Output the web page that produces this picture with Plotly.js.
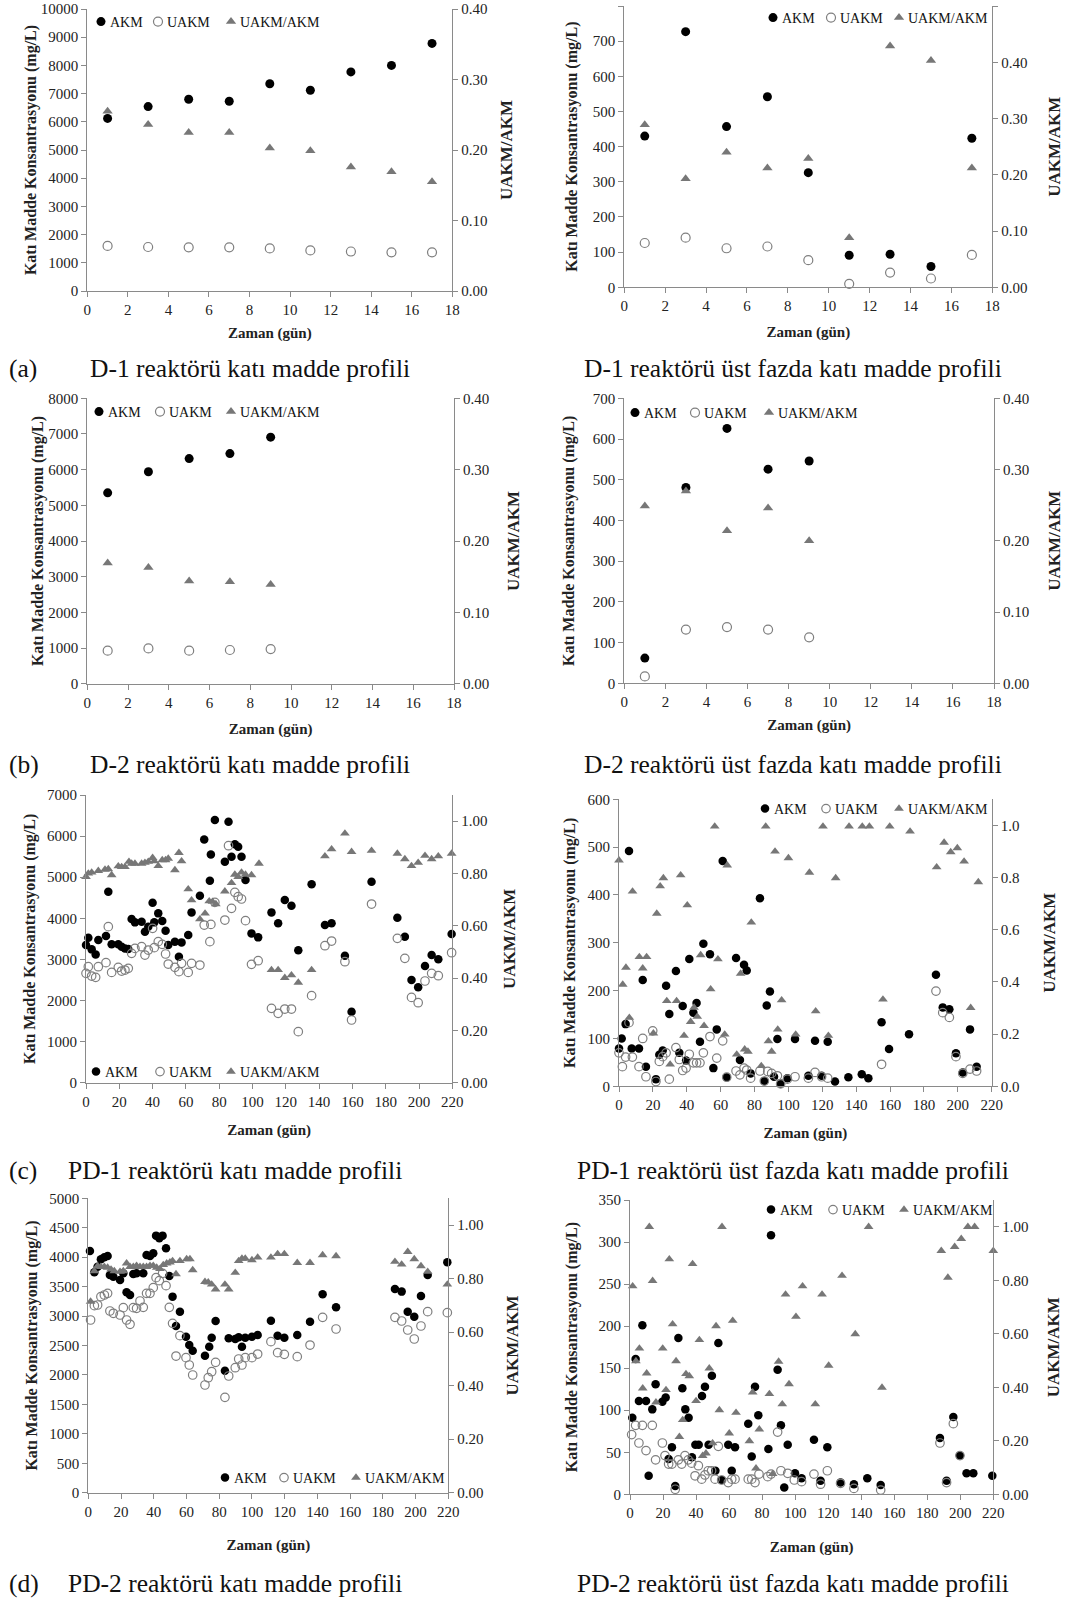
<!DOCTYPE html>
<html><head><meta charset="utf-8">
<script src="https://cdn.plot.ly/plotly-3.0.1.min.js"></script>
<style>html,body{margin:0;padding:0;background:#fff}</style>
</head><body><div id="chart" style="width:1073px;height:1601px"></div>
<script>
// ---------- DATA ----------
// D-1 (a)
const d1Days = [1,3,5,7,9,11,13,15,17];
const d1Akm = [6120,6540,6800,6730,7350,7120,7770,8000,8780];
const d1Uakm = [1600,1560,1550,1550,1510,1440,1400,1370,1370];
const d1Ratio = [0.255,0.236,0.225,0.225,0.203,0.199,0.176,0.169,0.155];
// D-1 üst faz
const d1tAkm = [430,727,457,542,326,91,94,59,424];
const d1tUakm = [126,141,111,116,77,10,42,25,92];
const d1tRatio = [0.289,0.193,0.240,0.212,0.229,0.088,0.429,0.403,0.212];
// D-2 (b)
const d2Days = [1,3,5,7,9];
const d2Akm = [5350,5940,6310,6450,6910];
const d2Uakm = [925,990,925,945,970];
const d2Ratio = [0.169,0.163,0.144,0.143,0.139];
// D-2 üst faz
const d2tAkm = [62,481,626,526,546];
const d2tUakm = [17,132,138,132,113];
const d2tRatio = [0.249,0.270,0.214,0.246,0.200];
// PD-1 (c)
const pd1Days = [0,1.4,3.4,5.8,7.4,12,13.4,15.4,19.4,21.4,23.4,25.4,27.4,29.4,33.4,35.4,37.4,40,41,43.4,45.8,47.8,49.4,53.4,55.8,57.4,61.4,63.4,68.4,71,74.4,75,77.4,83.4,85.6,87.4,89.4,91.4,93.4,95.8,99.4,103.4,111.4,115.4,119.4,123.4,127.5,135.5,143.5,147.5,155.5,159.5,171.5,187,191.5,195.5,199.5,203.6,207.6,211.6,219.6];
const pd1Akm = [3350,3528,3244,3122,3471,3569,4647,3366,3366,3309,3268,3252,3982,3901,3917,3674,3796,4380,3901,4120,3933,3698,3350,3431,3066,3414,3593,4144,4550,5920,4915,5555,6391,5377,6350,5499,5799,5742,5499,4931,3633,3536,4144,3877,4444,4306,3220,4826,3836,3877,3090,1727,4890,4015,3552,2498,2320,2839,3106,3001,3617];
const pd1Uakm = [2660,2822,2595,2563,2822,2920,3796,2684,2806,2717,2741,2782,3147,3268,3309,3106,3228,3755,3285,3431,3366,3131,2887,2806,2701,2904,2684,2904,2863,3836,3431,3852,4388,3958,5766,4242,4631,4525,4469,3942,2879,2968,1809,1687,1792,1792,1241,2117,3333,3447,2944,1525,4347,3512,3025,2076,1946,2474,2660,2603,3163];
const pd1RatioDays = [0,1.4,3.4,7.4,11.4,13.4,15.4,19.4,21.4,23.4,25.8,27.4,29.4,33.4,35.4,37.4,40,41,43.4,45.8,47.8,49.4,53.4,55.8,57.4,61.4,63.4,68.4,71.5,74,76,78,83.4,87.4,89.4,91.4,93.4,95.8,99.4,103.9,111.4,115.4,119.4,123.4,127.5,135.5,143.5,147.5,155.5,159.5,171.5,187,191.5,195.5,199.5,203.6,207.6,211.6,219.6];
const pd1Ratio = [0.787,0.80,0.804,0.81,0.815,0.817,0.794,0.828,0.825,0.825,0.845,0.838,0.838,0.838,0.841,0.845,0.86,0.847,0.829,0.851,0.851,0.857,0.813,0.879,0.847,0.74,0.698,0.625,0.647,0.694,0.692,0.683,0.732,0.764,0.796,0.787,0.804,0.796,0.794,0.838,0.431,0.431,0.401,0.411,0.383,0.431,0.866,0.893,0.953,0.883,0.887,0.876,0.855,0.829,0.841,0.868,0.855,0.866,0.876];
// PD-1 üst faz
const pd1tAkmDays = [0,1.6,3.9,5.9,7.5,11.8,14,15.9,21.8,23.8,25.8,27.8,29.7,33.6,35.6,37.6,39.6,41.5,43.9,45.8,47.8,49.8,53.7,55.7,57.7,61.2,63.6,69.1,71.4,73.8,75.4,77.7,83.2,85.8,87.2,89.1,91.5,93.5,95.4,99.4,103.9,111.8,115.7,119.6,123.2,127.5,135.4,143.3,147.2,155,159.4,171.2,187.1,191.1,195,198.9,202.9,207.2,211.1];
const pd1tAkm = [79,100,130,492,79,79,222,41,15,66,75,210,151,241,70,168,54,266,154,174,93,298,276,38,119,471,19,268,55,254,242,27,393,11,169,198,20,99,6,17,99,22,95,22,93,10,19,25,17,134,78,109,233,165,161,69,29,119,41];
const pd1tUakmDays = [0,2,3.9,5.9,7.9,11.8,14,15.9,19.9,21.8,23.8,25.8,27.8,29.7,33.6,35.6,37.6,39.6,41.5,43.9,45.8,47.8,49.8,53.7,57.7,61.2,63.6,69.1,71.4,73.8,75.4,77.7,83.2,85.8,87.8,90.1,93.5,95.4,99.4,103.9,111.8,115.7,119.6,123.2,155,187.1,191.1,195,198.9,202.9,207.2,211.1];
const pd1tUakm = [70,41,61,133,61,41,100,20,116,10,52,62,70,15,81,56,33,38,67,49,49,49,70,104,59,95,19,32,24,38,34,17,32,11,31,27,22,5,15,20,17,29,20,17,46,199,154,144,62,27,36,32];
const pd1tRatioDays = [0,2.2,4.1,6.1,8,12,14,16.3,20.3,22.3,24.3,26.2,28.2,30.2,34,36.4,38.4,40.3,42.3,44.3,46.2,48.2,50.2,54.1,56.5,58.4,62.4,63.9,69.5,71.8,74.2,76.1,78.1,84,86.6,88.2,90.1,92.1,93.7,96,100,104.3,112.4,116.1,120.4,123.6,127.9,135.8,143.6,147.8,155.8,159.8,171.8,187.5,191.9,195.8,199.7,203.7,207.6,212.1];
const pd1tRatio = [0.866,0.39,0.455,0.263,0.747,0.496,0.452,0.496,0.203,0.662,0.767,0.798,0.327,0.084,0.327,0.809,0.194,0.694,0.247,0.302,0.267,0.503,0.232,0.372,0.996,0.487,0.199,0.847,0.122,0.432,0.142,0.133,0.628,0.078,0.996,0.173,0.133,0.90,0.218,0.33,0.875,0.199,0.819,0.288,0.996,0.194,0.798,0.996,0.996,0.996,0.333,0.996,0.977,0.84,0.934,0.898,0.913,0.862,0.301,0.783];
// PD-2 (d)
const pd2AkmDays = [1,3.7,5.7,7.7,9.8,11.8,13.2,15.3,19.4,21.4,23.4,25.5,27.5,29.5,33.6,35.6,37.7,39.7,41.4,43.4,45.4,47.5,49.5,51.5,53.6,56,59.7,61.7,63.8,71.3,73.9,75.4,77.8,83.5,85.8,89.8,91.9,93.9,95.9,100,103.5,111.6,115.7,119.8,127.7,135.5,143.2,151.4,187.4,191.5,195.2,199.2,203.3,207.4,219.4];
const pd2Akm = [4105,3743,3839,3964,3998,4020,3698,3669,3613,3726,3403,3358,3715,3726,3726,4037,4020,4066,4366,4321,4366,4151,3681,3330,2831,3075,2650,2508,2412,2327,2480,2633,2916,2072,2622,2610,2639,2480,2633,2650,2678,2922,2667,2633,2678,2905,3369,3148,3460,3415,3075,2990,3341,3698,3913];
const pd2UakmDays = [1.4,3.7,5.7,7.7,9.8,11.8,13.2,15.3,19.4,21.4,23.4,25.5,27.5,29.5,31.6,33.6,35.6,37.7,39.7,41.4,43.4,45.4,47.5,49.5,51.5,53.6,56,59.7,61.7,63.8,71.3,73.3,75.4,77.8,83.5,85.8,89.8,91.9,93.9,95.9,100,103.5,111.6,115.7,119.8,127.7,135.5,143.2,151.4,187.4,191.5,195.2,199.2,203.3,207.4,219.4];
const pd2Uakm = [2933,3177,3188,3330,3358,3386,3086,3047,3018,3143,2933,2860,3143,3131,3256,3148,3386,3386,3482,3652,3601,3726,3516,3148,2876,2321,2667,2293,2169,1999,1829,1953,2055,2214,1619,1982,2123,2271,2169,2293,2293,2355,2565,2378,2350,2310,2508,2978,2780,2978,2916,2763,2610,2831,3075,3058];
const pd2RatioDays = [1.4,3.7,5.7,7.7,9.8,11.8,13.9,15.9,19.4,21.4,23.4,25.5,27.5,29.5,31.6,33.6,35.6,37.7,39.7,41.8,43.8,45.8,47.9,49.9,51.5,53.6,56,60.1,62.1,63.8,71.3,73.3,75.4,77.8,83.5,85.8,89.8,91.9,93.9,95.9,100,103.5,111.6,115.7,119.8,127.7,135.5,143.2,151.4,187.4,191.5,195.2,199.2,203.3,207.4,219.4];
const pd2Ratio = [0.714,0.828,0.847,0.844,0.844,0.841,0.834,0.828,0.826,0.828,0.857,0.844,0.844,0.848,0.844,0.844,0.844,0.848,0.848,0.841,0.836,0.851,0.857,0.861,0.866,0.817,0.866,0.873,0.873,0.832,0.788,0.786,0.778,0.760,0.778,0.760,0.822,0.866,0.875,0.875,0.869,0.879,0.879,0.892,0.892,0.859,0.859,0.888,0.884,0.863,0.853,0.90,0.873,0.847,0.826,0.778];
// PD-2 üst faz
const pd2tAkmDays = [1.4,3.4,5.4,7.5,9.7,11.3,13.5,15.5,19.6,21.6,23.4,25.4,27.4,29.3,31.7,33.5,35.5,37.5,39.6,41.6,43.6,45.4,47.6,49.6,51.7,53.5,55.5,59.5,61.6,63.6,71.6,73.7,75.7,77.7,83.8,85.4,89.4,91.4,93.4,95.5,99.9,103.9,111.4,115.4,119.5,127.5,135.6,143.7,151.8,187.7,191.7,195.8,199.8,203.8,207.9,219.4];
const pd2tAkm = [91,161,111,201,111,22,101,131,110,115,42,56,10,186,126,101,91,44,59,59,117,128,59,141,28,180,17,59,28,56,84,45,128,94,54,308,148,82,8,59,25,19,65,16,56,14,12,19,11,67,16,92,46,25,25,22];
const pd2tUakmDays = [1,3.4,5.4,7.5,9.7,13.5,15.5,19.6,21.2,23.4,25.4,27.4,29.3,31.3,33.3,35.3,37.3,39.4,41.4,43.4,45.4,47.4,49.4,51.5,53.5,55.5,59.5,61.6,63.6,71.6,73.7,75.7,78.1,83.4,85.4,89.4,91.4,95.5,99.5,103.9,111.4,115.4,119.5,127.5,135.6,151.8,187.7,191.7,195.8,199.8];
const pd2tUakm = [71,82,61,82,52,82,41,61,46,36,36,6,41,36,46,41,37,22,34,18,23,28,28,18,57,17,14,18,18,18,18,14,24,21,24,74,28,25,17,15,24,12,28,13,7,5,61,14,84,46];
const pd2tRatioDays = [1.6,3.6,5.7,7.7,10.1,11.7,13.7,15.7,19.8,21.8,23.8,25.8,27.9,29.9,31.9,33.9,35.9,37.9,40,42,44,46,48,50,52.1,54.1,55.7,60.1,62.2,64.2,72.3,74.3,76.3,78.3,84.4,86.4,90,92.2,94.2,96.3,100.5,104.5,112.2,116.3,120.3,128.4,136.4,144.5,152.6,188.5,192.5,196.6,200.6,204.6,208.7,220];
const pd2tRatio = [0.778,0.498,0.545,0.396,0.452,1.0,0.798,0.344,0.545,0.39,0.879,0.636,0.498,0.215,0.278,0.45,0.442,0.861,0.349,0.577,0.144,0.153,0.471,0.191,0.629,0.315,1.0,0.228,0.649,0.305,0.199,0.381,0.097,0.243,0.375,0.076,0.496,0.337,0.747,0.412,0.664,0.778,0.337,0.747,0.481,0.817,0.599,1.0,0.399,0.91,0.81,0.925,0.955,1.0,1.0,0.91];

// Text
const seriesNames = ['AKM','UAKM','UAKM/AKM'];
const yLeftTitle = 'Katı Madde Konsantrasyonu (mg/L)';
const yRightTitle = 'UAKM/AKM';
const xTitle = 'Zaman (gün)';
const captionsLeft = ['D-1 reaktörü katı madde profili','D-2 reaktörü katı madde profili','PD-1 reaktörü katı madde profili','PD-2 reaktörü katı madde profili'];
const captionsRight = ['D-1 reaktörü üst fazda katı madde profili','D-2 reaktörü üst fazda katı madde profili','PD-1 reaktörü üst fazda katı madde profili','PD-2 reaktörü üst fazda katı madde profili'];
const captionLabels = ['(a)','(b)','(c)','(d)'];

// ---------- LAYOUT ----------
const W = 1073, H = 1601;
const FONT = 'Liberation Serif, Times New Roman, serif';
const AXC = '#8a8a8a';

// st: [left y-title standoff, right y-title standoff, x-title standoff]
// leg: x pixel of each legend symbol, and the legend row's y pixel
const panels = [
  {box:[87.3,452.3,9,291], xr:[0,18], xd:2, yr:[0,10000], yd:1000, y2r:[0,0.4], y2d:0.1, y2f:'.2f',
   s:[d1Days,d1Akm,d1Days,d1Uakm,d1Days,d1Ratio], leg:{xs:[100,157,230],y:22}, ms:9, st:[0,13,10]},
  {box:[624.3,992.3,6,287.3], xr:[0,18], xd:2, yr:[0,800], yd:100, y2r:[0,0.5], y2d:0.1, y2f:'.2f',
   s:[d1Days,d1tAkm,d1Days,d1tUakm,d1Days,d1tRatio], leg:{xs:[772,830,898],y:18}, ms:9, st:[11,21,13]},
  {box:[87.3,454,398.3,683.7], xr:[0,18], xd:2, yr:[0,8000], yd:1000, y2r:[0,0.4], y2d:0.1, y2f:'.2f',
   s:[d2Days,d2Akm,d2Days,d2Uakm,d2Days,d2Ratio], leg:{xs:[98,159,230],y:412}, ms:9, st:[0,18,13]},
  {box:[624.3,994,398.3,683.3], xr:[0,18], xd:2, yr:[0,700], yd:100, y2r:[0,0.4], y2d:0.1, y2f:'.2f',
   s:[d2Days,d2tAkm,d2Days,d2tUakm,d2Days,d2tRatio], leg:{xs:[634,694,768],y:413}, ms:9, st:[14,19,10]},
  {box:[86,452.3,795,1082.7], xr:[0,220], xd:20, yr:[0,7000], yd:1000, y2r:[0,1.1], y2d:0.2, y2f:'.2f',
   s:[pd1Days,pd1Akm,pd1Days,pd1Uakm,pd1RatioDays,pd1Ratio], leg:{xs:[95,159,230],y:1072}, ms:8.5, st:[7,16,15]},
  {box:[619,991.7,799.3,1086.3], xr:[0,220], xd:20, yr:[0,600], yd:100, y2r:[0,1.1], y2d:0.2, y2f:'.1f',
   s:[pd1tAkmDays,pd1tAkm,pd1tUakmDays,pd1tUakm,pd1tRatioDays,pd1tRatio], leg:{xs:[764,825,898],y:809}, ms:8.5, st:[7,24,15]},
  {box:[88.3,448.3,1198.3,1492.7], xr:[0,220], xd:20, yr:[0,5000], yd:500, y2r:[0,1.1], y2d:0.2, y2f:'.2f',
   s:[pd2AkmDays,pd2Akm,pd2UakmDays,pd2Uakm,pd2RatioDays,pd2Ratio], leg:{xs:[224,283,355],y:1478}, ms:8.5, st:[7,23,20]},
  {box:[630,993.3,1200,1494.3], xr:[0,220], xd:20, yr:[0,350], yd:50, y2r:[0,1.1], y2d:0.2, y2f:'.2f',
   s:[pd2tAkmDays,pd2tAkm,pd2tUakmDays,pd2tUakm,pd2tRatioDays,pd2tRatio], leg:{xs:[770,832,903],y:1210}, ms:8.5, st:[16,19,21]}
];

const traces = [];
const layout = {
  width: W, height: H, margin:{l:0,r:0,t:0,b:0,autoexpand:false}, paper_bgcolor:'#fff', plot_bgcolor:'#fff',
  font:{family:FONT, color:'#222'}, annotations:[], showlegend:true
};

const tickFont = {family:FONT, size:15, color:'#222'};
const titleFont = {family:FONT, size:16, color:'#222', weight:'bold'};
const markerStyles = [
  (ms) => ({symbol:'circle', color:'#000', size:ms}),
  (ms) => ({symbol:'circle-open', color:'#7f7f7f', size:ms, line:{width:1.2, color:'#7f7f7f'}}),
  (ms) => ({symbol:'triangle-up', color:'#777', size:ms})
];

panels.forEach((p, k) => {
  const i = k + 1;
  const xid = i === 1 ? 'x' : 'x' + i;
  const yLid = (2*i-1) === 1 ? 'y' : 'y' + (2*i-1);
  const yRid = 'y' + (2*i);
  const [l, r, t, b] = p.box;
  const xd = [l / W, r / W];
  const yd = [1 - b / H, 1 - t / H];

  for (let j = 0; j < 3; j++) {
    const n = 3 * k + j + 1;
    const legId = n === 1 ? 'legend' : 'legend' + n;
    traces.push({mode:'markers', type:'scatter', cliponaxis:false, legend:legId, showlegend:true, hoverinfo:'x+y',
      x:p.s[2*j], y:p.s[2*j+1], name:seriesNames[j], xaxis:xid, yaxis:(j === 2 ? yRid : yLid),
      marker:markerStyles[j](p.ms)});
    layout[legId] = {visible:true, orientation:'h', x:(p.leg.xs[j] - 19) / W, y:1 - p.leg.y / H, xanchor:'left', yanchor:'middle',
      bgcolor:'rgba(0,0,0,0)', font:{family:FONT, size:14, color:'#111'}, itemwidth:30};
  }

  const axisBase = {showline:true, linecolor:AXC, linewidth:1, ticks:'outside', ticklen:5, tickcolor:AXC,
    showgrid:false, zeroline:false, tickfont:tickFont, fixedrange:true, automargin:false};

  layout['xaxis' + (i === 1 ? '' : i)] = Object.assign({}, axisBase, {
    domain:xd, anchor:yLid, range:p.xr, tick0:0, dtick:p.xd,
    title:{text:xTitle, font:Object.assign({}, titleFont, {size:15}), standoff:p.st[2]}
  });
  layout['yaxis' + ((2*i-1) === 1 ? '' : (2*i-1))] = Object.assign({}, axisBase, {
    domain:yd, anchor:xid, range:p.yr, tick0:0, dtick:p.yd, tickformat:'d',
    title:{text:yLeftTitle, font:titleFont, standoff:p.st[0]}
  });
  layout['yaxis' + (2*i)] = Object.assign({}, axisBase, {
    domain:yd, anchor:xid, overlaying:yLid, side:'right', range:p.y2r, tick0:0, dtick:p.y2d, tickformat:p.y2f,
    title:{text:yRightTitle, font:Object.assign({}, titleFont, {size:17}), standoff:p.st[1]}
  });
});

const capY = [368, 765, 1170, 1583];
const capLeftX = [88, 88, 66, 66];
const capFont = {family:FONT, size:25.5, color:'#111'};
for (let j = 0; j < 4; j++) {
  const yy = 1 - capY[j] / H;
  layout.annotations.push({xref:'paper', yref:'paper', x:7 / W, y:yy, xanchor:'left', yanchor:'middle',
    text:captionLabels[j], showarrow:false, font:capFont});
  layout.annotations.push({xref:'paper', yref:'paper', x:capLeftX[j] / W, y:yy, xanchor:'left', yanchor:'middle',
    text:captionsLeft[j], showarrow:false, font:capFont});
  layout.annotations.push({xref:'paper', yref:'paper', x:793 / W, y:yy, xanchor:'center', yanchor:'middle',
    text:captionsRight[j], showarrow:false, font:capFont});
}

// pull legend labels closer to their symbols, as in the original figure
// (each legend's labels carry the class "legendtext", "legend2text", ...)
const LEGEND_TEXT = /(^|\s)legend\d*text(\s|$)/;
function tightenLegends() {
  document.querySelectorAll('#chart text').forEach(function (t) {
    if (LEGEND_TEXT.test(t.getAttribute('class') || '') && t.getAttribute('x') !== '29') t.setAttribute('x', '29');
  });
}
const gd = document.getElementById('chart');
const obs = new MutationObserver(tightenLegends);
obs.observe(gd, {subtree:true, childList:true, attributes:true, attributeFilter:['x']});
Plotly.newPlot(gd, traces, layout, {displayModeBar:false, staticPlot:true}).then(function () {
  tightenLegends();
  gd.on('plotly_afterplot', tightenLegends);
  setTimeout(tightenLegends, 0);
  setTimeout(tightenLegends, 50);
});
</script></body></html>
